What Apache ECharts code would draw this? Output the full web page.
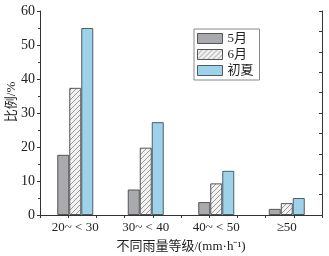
<!DOCTYPE html>
<html>
<head>
<meta charset="utf-8">
<script src="https://cdn.jsdelivr.net/npm/echarts@6/dist/echarts.min.js"></script>
<style>
html, body { margin: 0; padding: 0; background: #fff; }
#chart { width: 329px; height: 256px; }
</style>
</head>
<body>
<div id="chart"></div>
<script>
// 数据
var categories = ['20~ < 30', '30~ < 40', '40~ < 50', '≥50'];
var mayData = [17.7, 7.5, 3.8, 1.8];
var juneData = [37.4, 19.8, 9.3, 3.5];
var summerData = [55, 27.3, 13, 5];
var seriesNames = ['5月', '6月', '初夏'];

var fontFam = '"Liberation Serif", "Noto Sans CJK SC", serif';

// 斜线填充
function makeHatch() {
    var c = document.createElement('canvas');
    c.width = 5;
    c.height = 5;
    var ctx = c.getContext('2d');
    ctx.fillStyle = '#f2f2f2';
    ctx.fillRect(0, 0, 5, 5);
    ctx.strokeStyle = '#999';
    ctx.lineWidth = 1;
    ctx.beginPath();
    ctx.moveTo(0, 5); ctx.lineTo(5, 0);
    ctx.moveTo(-2.5, 2.5); ctx.lineTo(2.5, -2.5);
    ctx.moveTo(2.5, 7.5); ctx.lineTo(7.5, 2.5);
    ctx.stroke();
    return c;
}

var chart = echarts.init(document.getElementById('chart'));

var option = {
    animation: false,
    backgroundColor: '#fff',
    grid: { left: 40, right: 7, top: 11, bottom: 41, outerBoundsMode: 'none' },
    legend: {
        orient: 'vertical',
        left: 194,
        top: 29,
        icon: 'rect',
        itemWidth: 25,
        itemHeight: 10,
        itemGap: 3,
        padding: [3, 6, 3, 3],
        borderColor: '#888',
        borderWidth: 1,
        itemStyle: { borderWidth: 1 },
        textStyle: { fontFamily: fontFam, fontSize: 13, color: '#222' },
        data: seriesNames
    },
    xAxis: [
        {
            type: 'category',
            data: categories,
            name: '不同雨量等级/(mm·h⁻¹)',
            nameLocation: 'middle',
            nameGap: 25,
            nameMoveOverlap: false,
            nameTextStyle: { fontFamily: fontFam, fontSize: 13, color: '#222' },
            axisLine: { lineStyle: { color: '#333' } },
            axisTick: { alignWithLabel: true, length: 3, lineStyle: { color: '#333' } },
            axisLabel: { fontFamily: fontFam, fontSize: 13, color: '#222', margin: 6 }
        },
        {
            // 上边框刻度
            type: 'value',
            position: 'top',
            min: 0,
            max: 10,
            interval: 1,
            axisLine: { show: true, lineStyle: { color: '#333' } },
            axisTick: { show: true, inside: true, length: 3, lineStyle: { color: '#333' } },
            axisLabel: { show: false },
            splitLine: { show: false }
        }
    ],
    yAxis: [
        {
            type: 'value',
            min: 0,
            max: 60,
            interval: 10,
            name: '比例/%',
            nameLocation: 'middle',
            nameGap: 22,
            nameMoveOverlap: false,
            nameTextStyle: { fontFamily: fontFam, fontSize: 13, color: '#222', padding: [0, 0, 0, 22] },
            axisLine: { show: true, lineStyle: { color: '#333' } },
            axisTick: { show: true, length: 3, lineStyle: { color: '#333' } },
            minorTick: { show: true, splitNumber: 2, length: 2, lineStyle: { color: '#333' } },
            axisLabel: { fontFamily: fontFam, fontSize: 14, color: '#222', margin: 5 },
            splitLine: { show: false }
        },
        {
            // 右边框刻度
            type: 'value',
            position: 'right',
            min: 0,
            max: 60,
            interval: 6,
            axisLine: { show: true, lineStyle: { color: '#333' } },
            axisTick: { show: true, inside: true, length: 3, lineStyle: { color: '#333' } },
            axisLabel: { show: false },
            splitLine: { show: false }
        }
    ],
    series: [
        {
            name: seriesNames[0],
            type: 'bar',
            xAxisIndex: 0,
            yAxisIndex: 0,
            barWidth: 12,
            barGap: '0%',
            itemStyle: { color: '#a9aaad', borderColor: '#555', borderWidth: 1 },
            data: mayData
        },
        {
            name: seriesNames[1],
            type: 'bar',
            xAxisIndex: 0,
            yAxisIndex: 0,
            barWidth: 12,
            barGap: '0%',
            itemStyle: { color: { image: makeHatch(), repeat: 'repeat' }, borderColor: '#555', borderWidth: 1 },
            data: juneData
        },
        {
            name: seriesNames[2],
            type: 'bar',
            xAxisIndex: 0,
            yAxisIndex: 0,
            barWidth: 12,
            barGap: '0%',
            itemStyle: { color: '#9ed2ea', borderColor: '#4d5d66', borderWidth: 1 },
            data: summerData
        }
    ]
};

chart.setOption(option);
</script>
</body>
</html>
